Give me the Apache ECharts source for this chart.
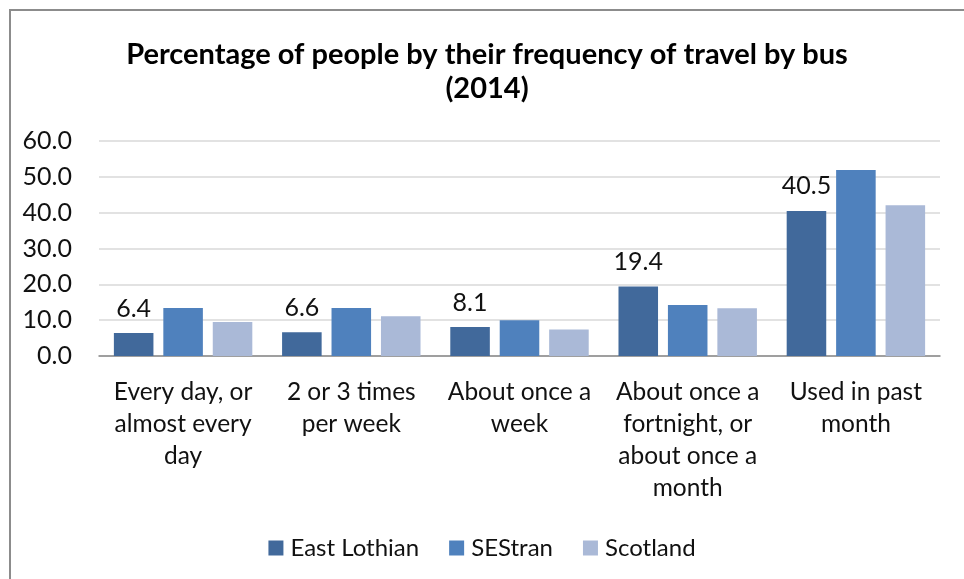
<!DOCTYPE html>
<html>
<head>
<meta charset="utf-8">
<script src="https://cdn.jsdelivr.net/npm/echarts@6/dist/echarts.min.js"></script>
<style>
  html, body { margin: 0; padding: 0; background: #fff; }
  #chart { width: 964px; height: 579px; }
</style>
</head>
<body>
<div id="chart"></div>
<script>
// Bus travel frequency categories (line breaks mark the wrapped axis labels)
const categories = [
  'Every day, or\nalmost every\nday',
  '2 or 3 times\nper week',
  'About once a\nweek',
  'About once a\nfortnight, or\nabout once a\nmonth',
  'Used in past\nmonth'
];

const seriesNames = ['East Lothian', 'SEStran', 'Scotland'];

// Percentage of people, 2014
const eastLothian = [6.4, 6.6, 8.1, 19.4, 40.5];
const sestran = [13.4, 13.4, 10.0, 14.2, 51.9];
const scotland = [9.5, 11.1, 7.4, 13.3, 42.1];

const yTicks = { min: 0, max: 60, interval: 10 };

const FONT = 'Lato, "Noto Sans", sans-serif';
const colors = ['#41699b', '#4f81bd', '#aab9d7'];

const chart = echarts.init(document.getElementById('chart'), null, { renderer: 'canvas' });

const labelled = {
  show: true,
  position: 'top',
  distance: 12,
  color: '#111',
  fontFamily: FONT,
  fontSize: 25,
  formatter: p => p.value.toFixed(1)
};

chart.setOption({
  backgroundColor: '#fff',
  animation: false,
  color: colors,
  graphic: [{
    type: 'rect',
    shape: { x: 10, y: 10, width: 1100, height: 1100 },
    style: { fill: 'none', stroke: '#8c8c8c', lineWidth: 2 },
    silent: true
  }],
  title: {
    text: 'Percentage of people by their frequency of travel by bus\n(2014)',
    left: 482,
    top: 33,
    textAlign: 'center',
    textStyle: {
      fontFamily: FONT,
      fontWeight: 'bold',
      fontSize: 29,
      lineHeight: 34,
      color: '#000'
    }
  },
  legend: {
    data: seriesNames,
    left: 'center',
    top: 531,
    itemWidth: 15,
    itemHeight: 15,
    itemGap: 30,
    icon: 'rect',
    textStyle: { fontFamily: FONT, fontSize: 24, color: '#111', padding: [0, 0, 0, 2] }
  },
  grid: { left: 99, right: 24, top: 141, bottom: 223, containLabel: false },
  xAxis: {
    type: 'category',
    data: categories,
    axisTick: { show: false },
    axisLine: { lineStyle: { color: '#898989', width: 1.5 } },
    axisLabel: {
      interval: 0,
      margin: 20,
      fontFamily: FONT,
      fontSize: 24.5,
      lineHeight: 32,
      color: '#111',
      align: 'center',
      verticalAlign: 'top'
    }
  },
  yAxis: {
    type: 'value',
    min: yTicks.min,
    max: yTicks.max,
    interval: yTicks.interval,
    axisLine: { show: false },
    axisTick: { show: false },
    splitLine: { lineStyle: { color: '#d9d9d9', width: 1.5 } },
    axisLabel: {
      margin: 27,
      fontFamily: FONT,
      fontSize: 25,
      color: '#111',
      formatter: v => v.toFixed(1)
    }
  },
  series: [
    {
      name: seriesNames[0],
      type: 'bar',
      data: eastLothian,
      barGap: '25%',
      barCategoryGap: '17.7%',
      label: labelled
    },
    {
      name: seriesNames[1],
      type: 'bar',
      data: sestran,
      barGap: '25%',
      barCategoryGap: '17.7%'
    },
    {
      name: seriesNames[2],
      type: 'bar',
      data: scotland,
      barGap: '25%',
      barCategoryGap: '17.7%'
    }
  ]
});
</script>
</body>
</html>
